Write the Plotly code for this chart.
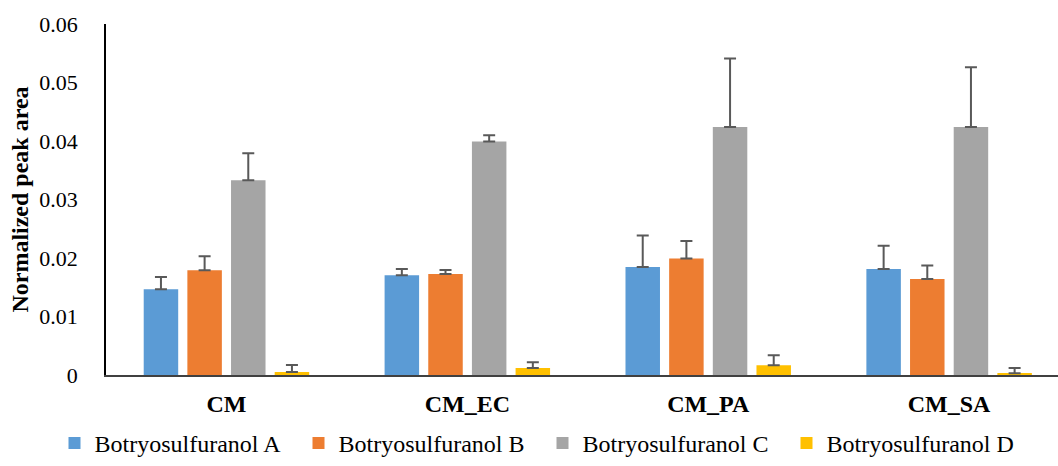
import plotly.graph_objects as go

# sample groups on the x axis
groups = ["CM", "CM_EC", "CM_PA", "CM_SA"]

# mean normalized peak areas per compound
botryo_a = [0.01465, 0.01704, 0.01846, 0.0181]
botryo_b = [0.0179, 0.01726, 0.0199, 0.0164]
botryo_c = [0.0333, 0.0399, 0.0424, 0.0424]
botryo_d = [0.0005, 0.0012, 0.00166, 0.0003]

# upper error bars (only plus direction is drawn)
err_a = [0.0021, 0.0011, 0.0054, 0.0040]
err_b = [0.0024, 0.0007, 0.0030, 0.0023]
err_c = [0.0046, 0.0011, 0.0117, 0.0102]
err_d = [0.0012, 0.0010, 0.0017, 0.0009]

series = [
    ("Botryosulfuranol A", botryo_a, err_a, "#5B9BD5"),
    ("Botryosulfuranol B", botryo_b, err_b, "#ED7D31"),
    ("Botryosulfuranol C", botryo_c, err_c, "#A5A5A5"),
    ("Botryosulfuranol D", botryo_d, err_d, "#FFC000"),
]

FONT = "Liberation Serif, Times New Roman, serif"

fig = go.Figure()
for name, vals, errs, color in series:
    fig.add_trace(go.Bar(
        x=groups,
        y=vals,
        name=name,
        marker=dict(color=color, line=dict(width=0)),
        error_y=dict(
            type="data", array=errs, symmetric=False,
            arrayminus=[0] * len(errs),
            color="#595959", thickness=2, width=6,
        ),
    ))

fig.update_layout(
    width=1058,
    height=466,
    margin=dict(l=105.5, r=0, t=24, b=91),
    paper_bgcolor="white",
    plot_bgcolor="white",
    barmode="group",
    bargap=0.275,
    bargroupgap=0.21,
    font=dict(family=FONT, size=22, color="black"),
    # legend sits left of and below the plot area so it may span the full width
    legend=dict(
        orientation="h",
        x=(54 - 105.5) / 952, xanchor="left",
        y=-(444 - 375) / 351, yanchor="middle",
        font=dict(family=FONT, size=24, color="black"),
        entrywidth=199,
        itemwidth=30,
        bgcolor="rgba(0,0,0,0)",
    ),
)

fig.update_xaxes(
    type="category",
    range=[-0.5, 3.452],
    showline=True, linecolor="#404040", linewidth=2,
    showgrid=False, ticks="",
    ticklabelstandoff=6,
    tickfont=dict(family=FONT, size=24, color="black", weight="bold"),
)

fig.update_yaxes(
    range=[0, 0.06],
    tickvals=[0, 0.01, 0.02, 0.03, 0.04, 0.05, 0.06],
    ticktext=["0", "0.01", "0.02", "0.03", "0.04", "0.05", "0.06"],
    showline=True, linecolor="black", linewidth=1.5,
    showgrid=False, zeroline=False, ticks="",
    ticklabelstandoff=22,
    tickfont=dict(family=FONT, size=22, color="black"),
    title=dict(
        text="<b>Normalized peak area</b>",
        font=dict(family=FONT, size=24, color="black"),
        standoff=4,
    ),
)

# drop the default page margin so the figure starts at the window corner
fig.write_html(
    "out.html",
    config={"displayModeBar": False},
    post_script="document.body.style.margin='0px';",
)
